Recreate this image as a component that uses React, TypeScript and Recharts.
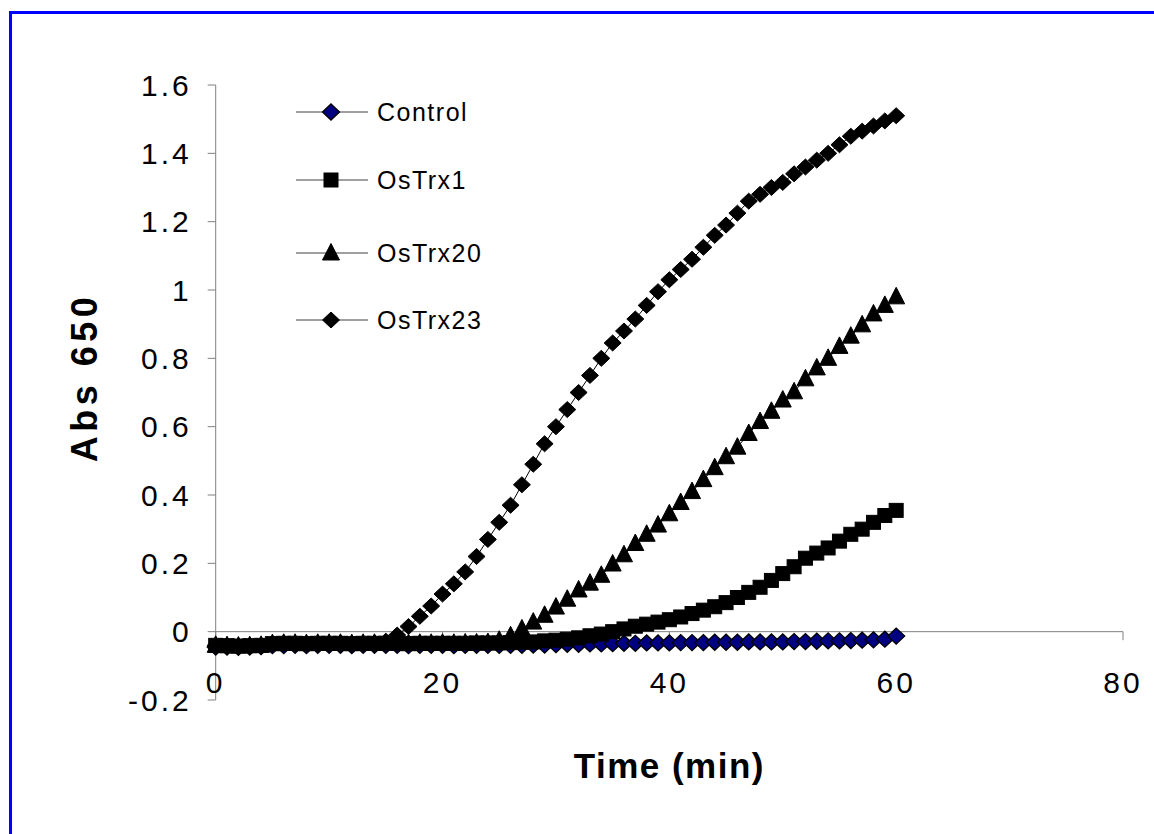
import React from 'react';
import { LineChart, Line, XAxis, YAxis, ReferenceLine, Legend } from 'recharts';

const times = [
  0, 1, 2, 3, 4, 5, 6, 7, 8, 9,
  10, 11, 12, 13, 14, 15, 16, 17, 18, 19,
  20, 21, 22, 23, 24, 25, 26, 27, 28, 29,
  30, 31, 32, 33, 34, 35, 36, 37, 38, 39,
  40, 41, 42, 43, 44, 45, 46, 47, 48, 49,
  50, 51, 52, 53, 54, 55, 56, 57, 58, 59,
  60,
];

const control = [
  -0.045, -0.045, -0.046, -0.045, -0.044, -0.041, -0.041, -0.040, -0.041, -0.040,
  -0.040, -0.040, -0.041, -0.040, -0.040, -0.040, -0.040, -0.041, -0.040, -0.040,
  -0.040, -0.041, -0.040, -0.040, -0.040, -0.040, -0.040, -0.040, -0.039, -0.039,
  -0.038, -0.037, -0.037, -0.036, -0.036, -0.035, -0.034, -0.034, -0.033, -0.033,
  -0.033, -0.032, -0.032, -0.032, -0.031, -0.031, -0.031, -0.030, -0.030, -0.030,
  -0.030, -0.029, -0.029, -0.028, -0.027, -0.027, -0.026, -0.025, -0.024, -0.022,
  -0.013,
];

const osTrx1 = [
  -0.040, -0.041, -0.042, -0.041, -0.040, -0.035, -0.034, -0.034, -0.035, -0.034,
  -0.034, -0.034, -0.035, -0.034, -0.034, -0.034, -0.034, -0.035, -0.034, -0.034,
  -0.034, -0.034, -0.034, -0.033, -0.033, -0.033, -0.032, -0.031, -0.030, -0.027,
  -0.025, -0.022, -0.018, -0.012, -0.007, 0.000, 0.008, 0.016, 0.022, 0.028,
  0.035, 0.043, 0.053, 0.063, 0.073, 0.085, 0.100, 0.115, 0.130, 0.150,
  0.170, 0.190, 0.215, 0.230, 0.245, 0.265, 0.285, 0.300, 0.320, 0.340,
  0.355,
];

const osTrx20 = [
  -0.040, -0.041, -0.042, -0.041, -0.040, -0.035, -0.034, -0.034, -0.035, -0.034,
  -0.034, -0.034, -0.035, -0.034, -0.034, -0.034, -0.034, -0.035, -0.034, -0.034,
  -0.034, -0.034, -0.033, -0.033, -0.032, -0.025, -0.012, 0.008, 0.028, 0.048,
  0.072, 0.095, 0.122, 0.142, 0.165, 0.198, 0.225, 0.258, 0.285, 0.312,
  0.345, 0.378, 0.410, 0.445, 0.480, 0.512, 0.540, 0.580, 0.615, 0.645,
  0.678, 0.702, 0.740, 0.772, 0.800, 0.835, 0.865, 0.898, 0.930, 0.955,
  0.980,
];

const osTrx23 = [
  -0.040, -0.041, -0.042, -0.041, -0.040, -0.035, -0.034, -0.034, -0.035, -0.034,
  -0.034, -0.034, -0.035, -0.034, -0.034, -0.028, -0.010, 0.015, 0.045, 0.075,
  0.110, 0.140, 0.175, 0.220, 0.270, 0.320, 0.370, 0.430, 0.490, 0.550,
  0.600, 0.650, 0.700, 0.750, 0.800, 0.845, 0.880, 0.915, 0.955, 0.995,
  1.030, 1.060, 1.090, 1.125, 1.160, 1.190, 1.225, 1.260, 1.280, 1.300,
  1.315, 1.340, 1.360, 1.380, 1.400, 1.425, 1.450, 1.465, 1.480, 1.495,
  1.510,
];

const seriesNames = ['Control', 'OsTrx1', 'OsTrx20', 'OsTrx23'];
const xTicks = [0, 20, 40, 60, 80];
const yTicks = [-0.2, 0, 0.2, 0.4, 0.6, 0.8, 1, 1.2, 1.4, 1.6];
const xTitle = 'Time (min)';
const yTitle = 'Abs 650';

const data = times.map((t, i) => ({
  t,
  control: control[i],
  osTrx1: osTrx1[i],
  osTrx20: osTrx20[i],
  osTrx23: osTrx23[i],
}));

const FONT = '"Liberation Sans", Arial, Helvetica, sans-serif';
const AXIS = '#808080';

type Kind = 'diamondNavy' | 'square' | 'triangle' | 'diamond';

function marker(kind: Kind, cx: number, cy: number, key?: string) {
  if (cx == null || cy == null || isNaN(cx) || isNaN(cy)) return <g key={key} />;
  switch (kind) {
    case 'diamondNavy':
      return (
        <path key={key} d={`M${cx - 8.5},${cy} L${cx},${cy - 8} L${cx + 8.5},${cy} L${cx},${cy + 8} Z`}
          fill="#000080" stroke="#000" strokeWidth={1.3} />
      );
    case 'diamond':
      return (
        <path key={key} d={`M${cx - 8.5},${cy} L${cx},${cy - 8} L${cx + 8.5},${cy} L${cx},${cy + 8} Z`}
          fill="#000" stroke="#000" strokeWidth={1} />
      );
    case 'square':
      return <rect key={key} x={cx - 7} y={cy - 7} width={14} height={14} fill="#000" stroke="#000" strokeWidth={1} />;
    case 'triangle':
    default:
      return (
        <path key={key} d={`M${cx},${cy - 9.5} L${cx + 8.5},${cy + 7} L${cx - 8.5},${cy + 7} Z`}
          fill="#000" stroke="#000" strokeWidth={1} />
      );
  }
}

const series: { key: string; name: string; kind: Kind }[] = [
  { key: 'control', name: seriesNames[0], kind: 'diamondNavy' },
  { key: 'osTrx1', name: seriesNames[1], kind: 'square' },
  { key: 'osTrx20', name: seriesNames[2], kind: 'triangle' },
  { key: 'osTrx23', name: seriesNames[3], kind: 'diamond' },
];

const legendRowY = [22, 90, 163, 230];

const LegendContent = () => (
  <svg width={260} height={260} style={{ display: 'block', overflow: 'visible' }}>
    {series.map((s, i) => {
      const cy = legendRowY[i];
      return (
        <g key={s.key}>
          <line x1={16} x2={88} y1={cy} y2={cy} stroke="#404040" strokeWidth={1} />
          {marker(s.kind, 51, cy)}
          <text x={97} y={cy} dy="0.36em" fontSize={25} fontFamily={FONT} fill="#000" style={{ letterSpacing: '1.5px' }}>
            {s.name}
          </text>
        </g>
      );
    })}
  </svg>
);

const tickStyle = { fontSize: 30, fill: '#000', fontFamily: FONT, style: { letterSpacing: '3px' } };

export default function App() {
  return (
    <div style={{ position: 'fixed', left: 0, top: 0, width: 1154, height: 834, overflow: 'hidden', background: '#fff' }}>
      <div style={{ position: 'absolute', left: 9, top: 11, width: 1300, height: 1000, borderLeft: '3px solid #0000ff', borderTop: '3px solid #0000ff' }} />
      <div style={{ position: 'absolute', left: 0, top: 0 }}>
        <LineChart width={1154} height={834} data={data} margin={{ top: 85, right: 31, bottom: 0, left: 0 }}>
          <XAxis
            dataKey="t"
            type="number"
            domain={[0, 80]}
            ticks={xTicks}
            interval={0}
            axisLine={false}
            tickLine={false}
            tickSize={0}
            tickMargin={-28}
            height={134}
            tick={tickStyle}
            label={(p: any) => {
              const vb = p.viewBox || {};
              return (
                <text x={vb.x + vb.width / 2} y={vb.y + 78} textAnchor="middle" fontSize={35} fontWeight="bold"
                  fontFamily={FONT} fill="#000" style={{ letterSpacing: '1.5px' }}>
                  {xTitle}
                </text>
              );
            }}
          />
          <YAxis
            type="number"
            domain={[-0.2, 1.6]}
            ticks={yTicks}
            interval={0}
            width={215.7}
            axisLine={{ stroke: AXIS }}
            tickLine={{ stroke: AXIS }}
            tickSize={8}
            tickMargin={16}
            tick={tickStyle}
            label={(p: any) => {
              const vb = p.viewBox || {};
              const cx = 84;
              const cy = vb.y + vb.height / 2 - 15;
              return (
                <text x={cx} y={cy} transform={`rotate(-90, ${cx}, ${cy})`} textAnchor="middle" dy="0.36em"
                  fontSize={36} fontWeight="bold" fontFamily={FONT} fill="#000" style={{ letterSpacing: '4.5px' }}>
                  {yTitle}
                </text>
              );
            }}
          />
          <ReferenceLine y={0} stroke={AXIS} strokeWidth={1} />
          {xTicks.map((t) => (
            <ReferenceLine key={`xt-${t}`} segment={[{ x: t, y: 0 }, { x: t, y: -0.025 }]} stroke={AXIS} strokeWidth={1} />
          ))}
          <Legend
            layout="vertical"
            align="center"
            verticalAlign="middle"
            content={<LegendContent />}
            wrapperStyle={{ left: 280, top: 90, width: 260, height: 260 }}
          />
          {series.map((s) => (
            <Line
              key={s.key}
              type="linear"
              dataKey={s.key}
              name={s.name}
              stroke="#000"
              strokeWidth={1}
              isAnimationActive={false}
              activeDot={false}
              dot={(p: any) => marker(s.kind, p.cx, p.cy, `${s.key}-${p.index}`)}
            />
          ))}
        </LineChart>
      </div>
    </div>
  );
}
